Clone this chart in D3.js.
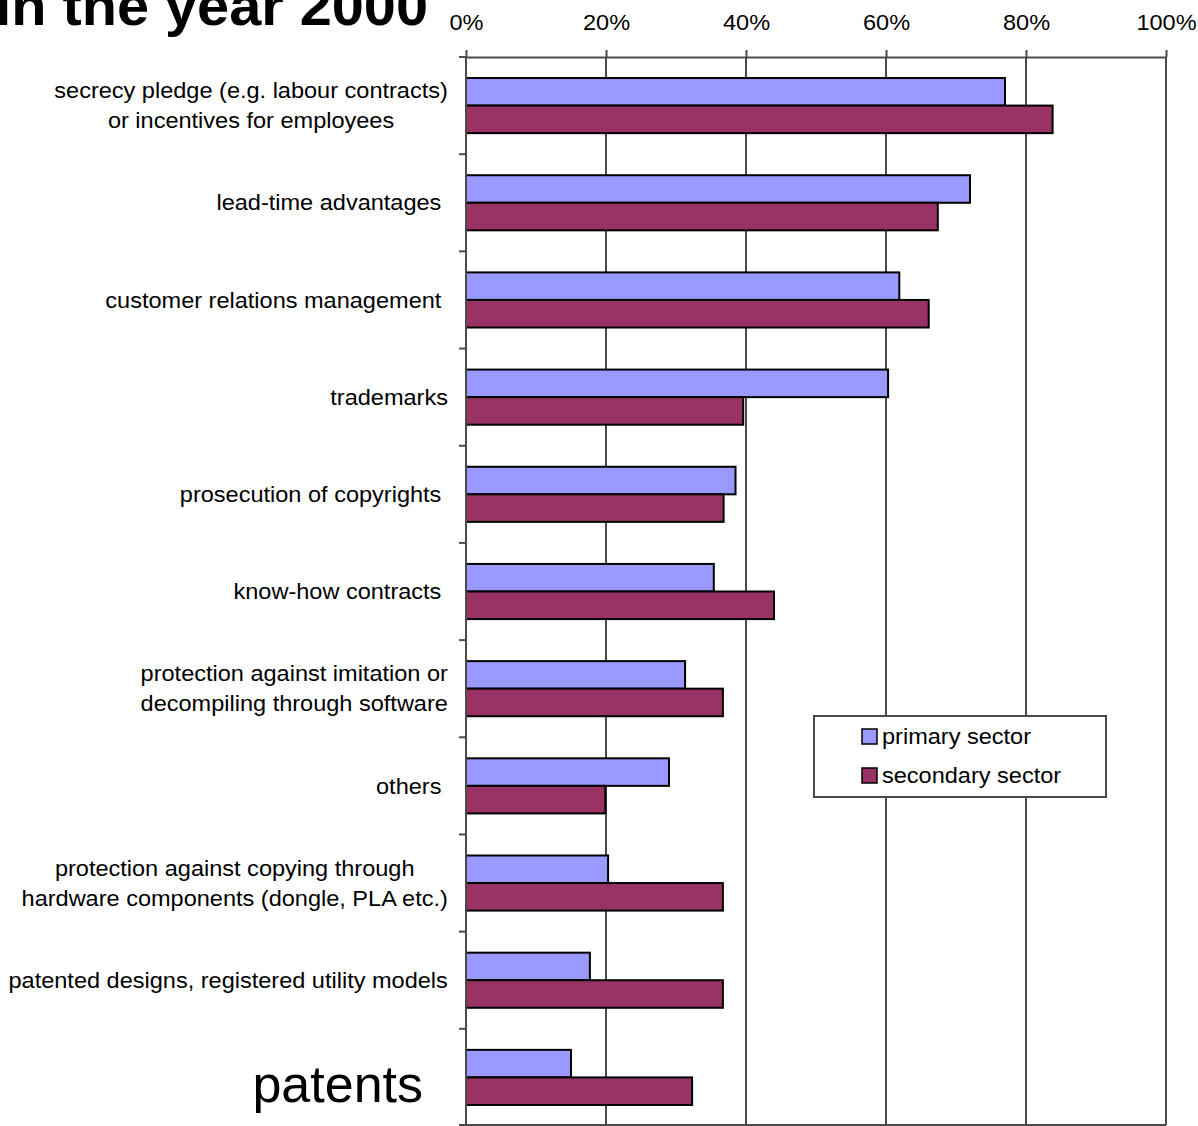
<!DOCTYPE html>
<html>
<head>
<meta charset="utf-8">
<script src="https://cdn.jsdelivr.net/npm/d3@7"></script>
<style>
  html, body { margin: 0; padding: 0; background: #fff; }
  svg { display: block; font-family: "Liberation Sans", Arial, sans-serif; }
  .cat text { white-space: pre; }
</style>
</head>
<body>
<svg id="chart" width="1198" height="1126"></svg>
<script>
// Protection methods, share of firms by sector (%)
const categories = [
  "secrecy pledge (e.g. labour contracts)\nor incentives for employees",
  "lead-time advantages ",
  "customer relations management ",
  "trademarks",
  "prosecution of copyrights ",
  "know-how contracts ",
  "protection against imitation or\ndecompiling through software",
  "others ",
  "protection against copying through\nhardware components (dongle, PLA etc.)",
  "patented designs, registered utility models",
  "patents"
];
const primarySector   = [77.0, 72.0, 61.9, 60.3, 38.5, 35.4, 31.3, 29.0, 20.3, 17.7, 15.0];
const secondarySector = [83.8, 67.4, 66.1, 39.6, 36.8, 44.0, 36.7, 19.9, 36.7, 36.7, 32.3];
const seriesNames = ["primary sector", "secondary sector"];
const seriesColors = ["#9999FF", "#993366"];
const xTickValues = [0, 20, 40, 60, 80, 100];
const titleText = "in the year 2000";

const svg = d3.select("#chart");
const plot = { left: 466, right: 1166, top: 57, bottom: 1126 };
const frameBottom = 1125;
const stretch = 1.07;           // text is set slightly wide
const stretchAbout = (sel, cx, sx) =>
  sel.attr("transform", `translate(${cx},0) scale(${sx},1) translate(${-cx},0)`);

const x = d3.scaleLinear().domain([0, 100]).range([plot.left, plot.right]);
const y = d3.scaleBand().domain(d3.range(categories.length))
  .range([plot.top, plot.bottom]).paddingInner(0.433).paddingOuter(0.2165);
const ySub = d3.scaleBand().domain([0, 1]).range([0, y.bandwidth()]);

// title (partly above the page edge)
const title = svg.append("text")
  .attr("x", 428).attr("y", 25)
  .attr("text-anchor", "end")
  .attr("font-size", 56).attr("font-weight", "bold")
  .text(titleText);
stretchAbout(title, 428, 1.03);

// vertical gridlines
svg.append("g").selectAll("line")
  .data(xTickValues.filter(v => v > 0))
  .join("line")
  .attr("x1", d => x(d)).attr("x2", d => x(d))
  .attr("y1", plot.top).attr("y2", frameBottom)
  .attr("stroke", "#4a4a4a").attr("stroke-width", 2);

// bottom frame line
svg.append("line")
  .attr("x1", plot.left - 7).attr("x2", plot.right)
  .attr("y1", frameBottom).attr("y2", frameBottom)
  .attr("stroke", "#4a4a4a").attr("stroke-width", 2);

// top axis
const xAxis = d3.axisTop(x).tickValues(xTickValues)
  .tickFormat(d => d + "%").tickSize(7).tickPadding(20).tickSizeOuter(0);
const gx = svg.append("g").attr("transform", `translate(0,${plot.top})`).call(xAxis);
gx.select(".domain").attr("stroke", "#4a4a4a").attr("stroke-width", 2);
gx.selectAll(".tick line").attr("stroke", "#4a4a4a").attr("stroke-width", 2);
gx.selectAll(".tick text")
  .attr("font-family", "Liberation Sans, Arial, sans-serif")
  .attr("font-size", 22).attr("fill", "#000")
  .attr("transform", `scale(${stretch},1)`);

// bars
const rows = categories.map((c, i) => ({ i, values: [primarySector[i], secondarySector[i]] }));
const groups = svg.append("g").selectAll("g")
  .data(rows).join("g")
  .attr("transform", d => `translate(0,${y(d.i)})`);
groups.selectAll("rect")
  .data(d => d.values.map((v, s) => ({ v, s })))
  .join("rect")
  .attr("x", x(0))
  .attr("y", d => ySub(d.s))
  .attr("width", d => x(d.v) - x(0))
  .attr("height", ySub.bandwidth())
  .attr("fill", d => seriesColors[d.s])
  .attr("stroke", "#000").attr("stroke-width", 2);

// left axis line with category boundary ticks
svg.append("line")
  .attr("x1", plot.left).attr("x2", plot.left)
  .attr("y1", plot.top).attr("y2", frameBottom)
  .attr("stroke", "#4a4a4a").attr("stroke-width", 2);
const step = y.step();
svg.append("g").selectAll("line")
  .data(d3.range(categories.length))
  .join("line")
  .attr("x1", plot.left - 7).attr("x2", plot.left)
  .attr("y1", d => plot.top + d * step).attr("y2", d => plot.top + d * step)
  .attr("stroke", "#4a4a4a").attr("stroke-width", 2);

// category labels: lines centred on each other, block right-aligned to the axis
const labelRight = 448;
const lineHeight = 30;
const catG = svg.append("g").attr("class", "cat");
categories.forEach((c, i) => {
  const cy = plot.top + i * step + step / 2;
  const big = c === "patents";
  const sx = big ? 1.0 : stretch;
  const lines = c.split("\n");
  const t = catG.append("text")
    .attr("font-size", big ? 52 : 22)
    .attr("text-anchor", "middle")
    .attr("fill", "#000");
  const spans = lines.map((ln, k) =>
    t.append("tspan").attr("x", 0)
      .attr("y", cy + (k - (lines.length - 1) / 2) * lineHeight)
      .attr("dy", big ? "0.47em" : "0.35em")
      .text(ln));
  const w = d3.max(spans, s => s.node().getComputedTextLength()) * sx;
  const right = big ? labelRight - 25 : labelRight;
  const cx = right - w / 2;
  spans.forEach(s => s.attr("x", cx));
  stretchAbout(t, cx, sx);
});

// legend
const lg = svg.append("g").attr("transform", "translate(814,716)");
lg.append("rect").attr("width", 292).attr("height", 81)
  .attr("fill", "#fff").attr("stroke", "#4a4a4a").attr("stroke-width", 2);
seriesNames.forEach((name, s) => {
  const row = lg.append("g").attr("transform", `translate(48,${13 + s * 39})`);
  row.append("rect").attr("width", 15).attr("height", 15)
    .attr("fill", seriesColors[s]).attr("stroke", "#000").attr("stroke-width", 1.5);
  const lt = row.append("text").attr("x", 20).attr("y", 15)
    .attr("font-size", 22).attr("fill", "#000").text(name);
  stretchAbout(lt, 20, stretch);
});
</script>
</body>
</html>
